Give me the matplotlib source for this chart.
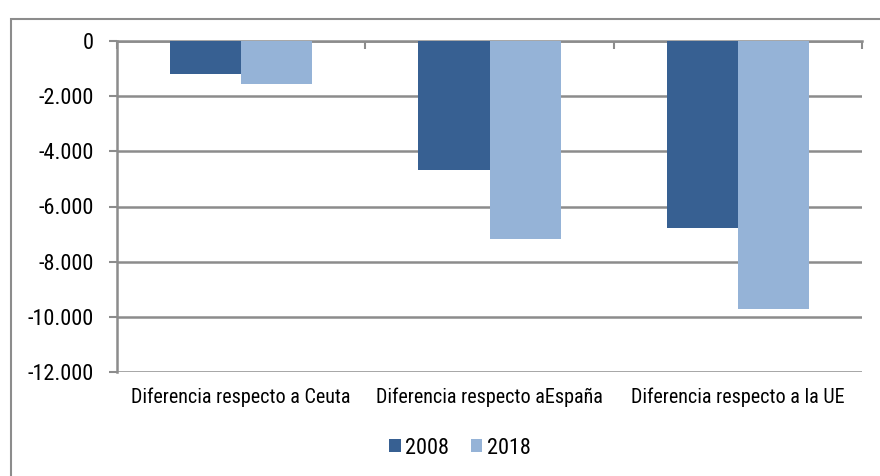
import matplotlib
matplotlib.use("Agg")
import matplotlib.pyplot as plt
import numpy as np
from matplotlib.patches import Rectangle
from matplotlib.ticker import FuncFormatter

# data
categorias = ["Diferencia respecto a Ceuta", "Diferencia respecto aEspaña", "Diferencia respecto a la UE"]
anios = ["2008", "2018"]
valores_2008 = [-1185, -4675, -6790]
valores_2018 = [-1570, -7185, -9700]

plt.rcParams['font.family'] = ['Roboto Condensed', 'Liberation Sans', 'DejaVu Sans']

color_2008 = "#376092"
color_2018 = "#95B3D7"
gris = "#8C8C8C"

fig = plt.figure(figsize=(8.8, 4.76), dpi=100)
ax = fig.add_axes([117 / 880, 1 - 372 / 476, (862 - 117) / 880, (372 - 41) / 476])

x = np.arange(len(categorias))
ancho = 0.286
ax.bar(x - ancho / 2, valores_2008, ancho, color=color_2008, label=anios[0], zorder=3)
ax.bar(x + ancho / 2, valores_2018, ancho, color=color_2018, label=anios[1], zorder=3)

ax.set_xlim(-0.5, len(categorias) - 0.5)
ax.set_ylim(-12000, 0)
ax.set_yticks(np.arange(-12000, 1, 2000))
ax.yaxis.set_major_formatter(FuncFormatter(lambda v, p: f"{int(v):,}".replace(",", ".")))
ax.grid(axis='y', color=gris, linewidth=1.8, zorder=0)

ax.set_xticks(x)
ax.set_xticklabels(categorias)
ax.set_xticks(np.arange(-0.5, len(categorias)), minor=True)
ax.tick_params(axis='x', which='major', length=0, pad=11, labelsize=14.5)
ax.tick_params(axis='x', which='minor', top=True, bottom=False, direction='in', length=6, width=1.5, color=gris)
ax.tick_params(axis='y', length=6, width=1.5, color=gris, labelsize=16, pad=11)

for lado in ['right', 'bottom']:
    ax.spines[lado].set_visible(False)
for lado in ['top', 'left']:
    ax.spines[lado].set_color(gris)
    ax.spines[lado].set_linewidth(1.8)

ax.legend(loc='center', bbox_to_anchor=(460 / 880, 1 - 448 / 476), bbox_transform=fig.transFigure,
          ncol=2, frameon=False, fontsize=16, handlelength=0.5, handleheight=0.5,
          handletextpad=0.2, columnspacing=1.0)

# marco exterior del grafico
fig.patches.append(Rectangle((11 / 880, -0.01), 1.0, 1 - 19 / 476 + 0.01, transform=fig.transFigure,
                             fill=False, edgecolor=gris, linewidth=1.5))

fig.savefig("out.png", dpi=100)
